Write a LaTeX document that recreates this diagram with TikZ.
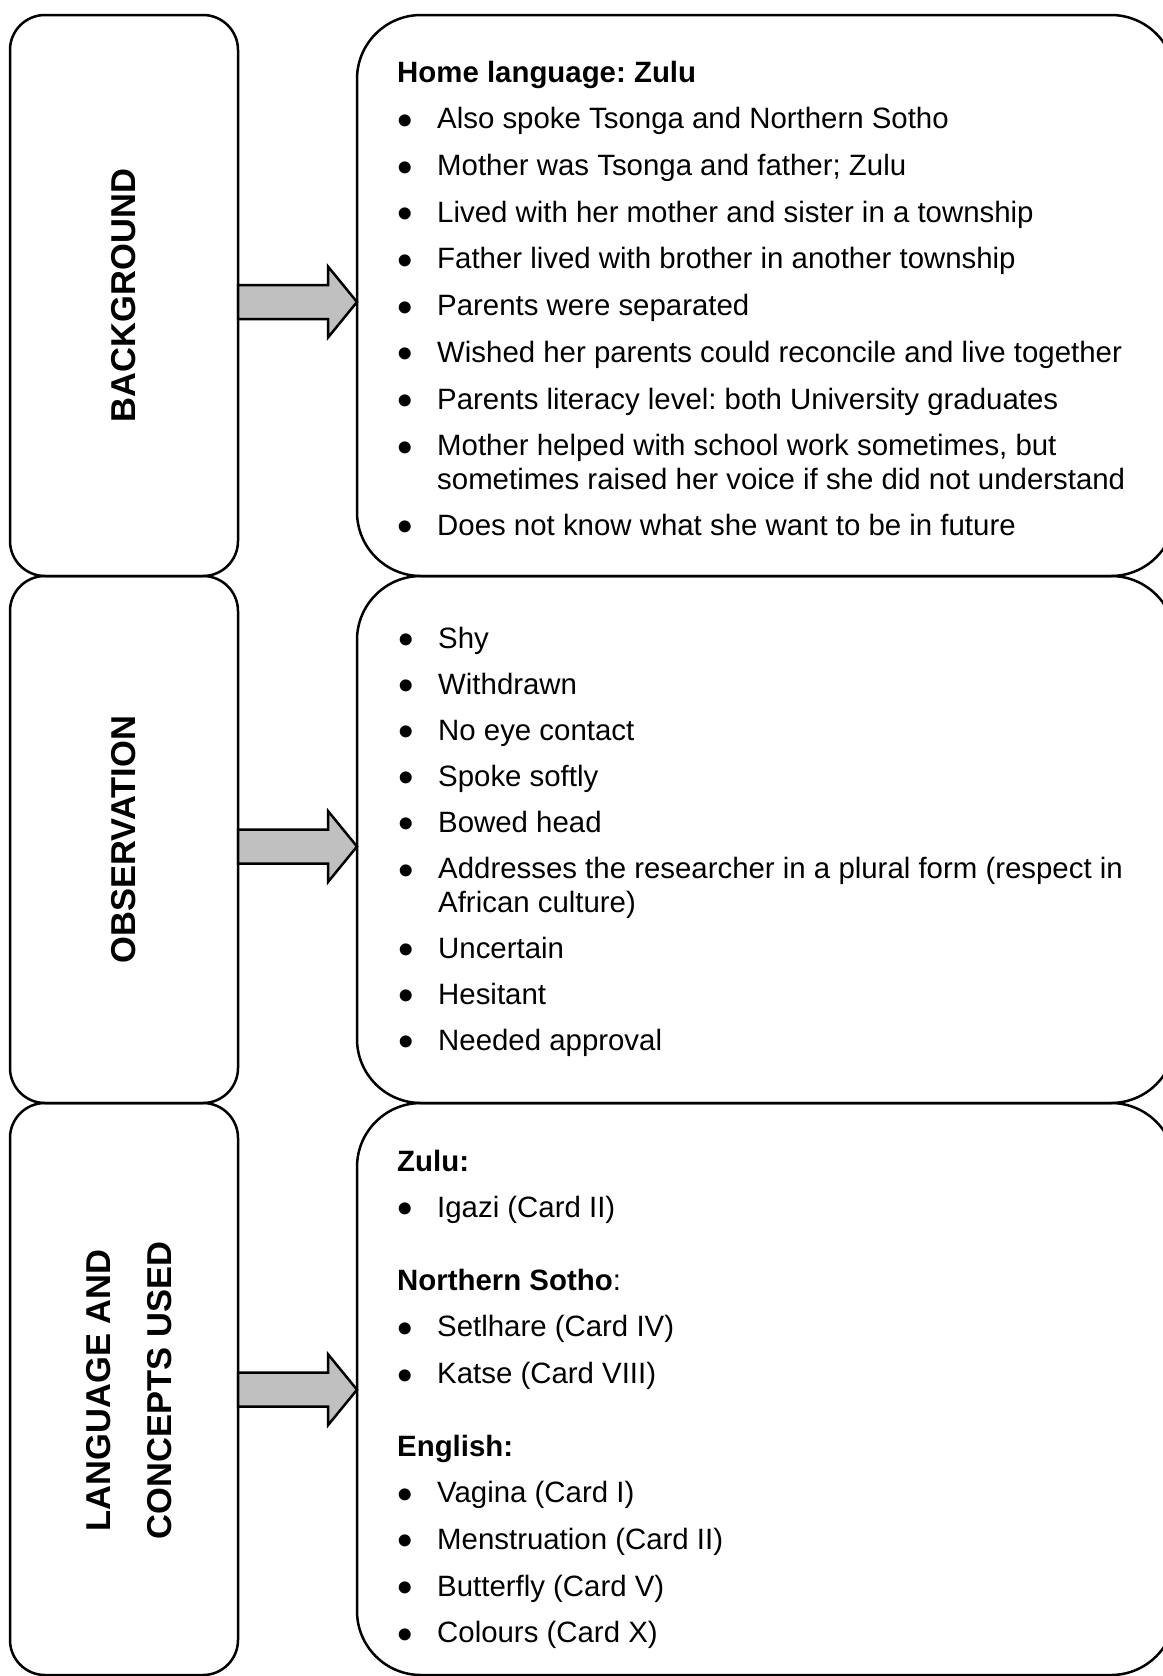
\documentclass[tikz,border=0pt]{standalone}
\usepackage{fontspec}
\setmainfont{Liberation Sans}
\frenchspacing
\usetikzlibrary{
    positioning,
    calc
}
\definecolor{ArrowGray}{RGB}{192,192,192}
\newcommand{\bigdot}{\raisebox{-6.5pt}{\scalebox{1.5}{\textbullet}}}
\newcommand{\itm}{\makebox[40pt][l]{\bigdot}}
\newcommand{\obsitm}{\makebox[40pt][l]{\bigdot}}

\begin{document}
\begin{tikzpicture}[
    x=1pt,
    y=-1pt,
    sidebox/.style={
        draw,
        line width=2.5pt,
        rounded corners=35pt,
        minimum width=228pt,
        minimum height=#1,
        inner sep=0pt,
        outer sep=0pt
    },
    mainbox/.style={
        draw,
        line width=2.5pt,
        rounded corners=64pt,
        minimum width=818pt,
        minimum height=#1,
        inner sep=0pt,
        outer sep=0pt
    },
    sidelabel/.style={
        rotate=90,
        align=center,
        inner sep=0pt,
        font=\fontsize{34.5}{41.4}\selectfont\bfseries
    },
    listtext/.style={
        anchor=north west,
        align=left,
        inner sep=0pt,
        font=\fontsize{29.4}{33.5}\selectfont
    },
    fatarrow/.style={
        draw,
        fill=ArrowGray,
        line width=2.5pt,
        line join=miter
    }
]

\useasboundingbox (0,0) rectangle (1162,1676);

% left column
\node[sidebox=561pt] (bg) at (124,295.5) {};
\node[sidebox=527pt, below=0pt of bg] (obs) {};
\node[sidebox=572pt, below=0pt of obs] (lang) {};

% right column
\node[mainbox=561pt, right=119pt of bg] (bgmain) {};
\node[mainbox=527pt, right=119pt of obs] (obsmain) {};
\node[mainbox=572pt, right=119pt of lang] (langmain) {};

% labels
\node[sidelabel] (bglabel) at (bg) {BACKGROUND};
\node[sidelabel] (obslabel) at (obs) {OBSERVATION};
\node[sidelabel] (langlabel) at ([xshift=5.5pt,yshift=-1.5pt]lang.center)
    {LANGUAGE AND\\[19.6pt]CONCEPTS USED};

% lists
\node[listtext] (bgtext) at (397,61.3) {%
\textbf{Home language: Zulu}\\[12.5pt]
\itm Also spoke Tsonga and Northern Sotho\\[13.2pt]
\itm Mother was Tsonga and father; Zulu\\[13.2pt]
\itm Lived with her mother and sister in a township\\[13.2pt]
\itm Father lived with brother in another township\\[13.2pt]
\itm Parents were separated\\[13.2pt]
\itm Wished her parents could reconcile and live together\\[13.2pt]
\itm Parents literacy level: both University graduates\\[13.2pt]
\itm Mother helped with school work sometimes, but\\
\hspace*{40pt}sometimes raised her voice if she did not understand\\[12.5pt]
\itm Does not know what she want to be in future};

\node[listtext] (obstext) at (398,626.5) {%
\obsitm Shy\\[12.6pt]
\obsitm Withdrawn\\[12.6pt]
\obsitm No eye contact\\[12.6pt]
\obsitm Spoke softly\\[12.6pt]
\obsitm Bowed head\\[12.6pt]
\obsitm Addresses the researcher in a plural form (respect in\\
\hspace*{40pt}African culture)\\[12.6pt]
\obsitm Uncertain\\[12.6pt]
\obsitm Hesitant\\[12.6pt]
\obsitm Needed approval};

\node[listtext] (langtext) at (397,1149.6) {%
\textbf{Zulu:}\\[12.5pt]
\itm Igazi (Card II)\\[39.5pt]
\textbf{Northern Sotho}:\\[13.2pt]
\itm Setlhare (Card IV)\\[13.2pt]
\itm Katse (Card VIII)\\[39pt]
\textbf{English:}\\[13.2pt]
\itm Vagina (Card I)\\[13.2pt]
\itm Menstruation (Card II)\\[13.2pt]
\itm Butterfly (Card V)\\[13.2pt]
\itm Colours (Card X)};

% arrows
\draw[fatarrow] ([yshift=-6.5pt]bg.east) ++(0,-17) -- ++(90,0) -- ++(0,-18.5)
    -- ++(29,35.5) -- ++(-29,35.5) -- ++(0,-18.5) -- ++(-90,0) -- cycle;
\draw[fatarrow] ([yshift=-7pt]obs.east) ++(0,-17) -- ++(90,0) -- ++(0,-18.5)
    -- ++(29,35.5) -- ++(-29,35.5) -- ++(0,-18.5) -- ++(-90,0) -- cycle;
\draw[fatarrow] ([yshift=-0.7pt]lang.east) ++(0,-17) -- ++(90,0) -- ++(0,-18.5)
    -- ++(29,35.5) -- ++(-29,35.5) -- ++(0,-18.5) -- ++(-90,0) -- cycle;

\end{tikzpicture}
\end{document}
